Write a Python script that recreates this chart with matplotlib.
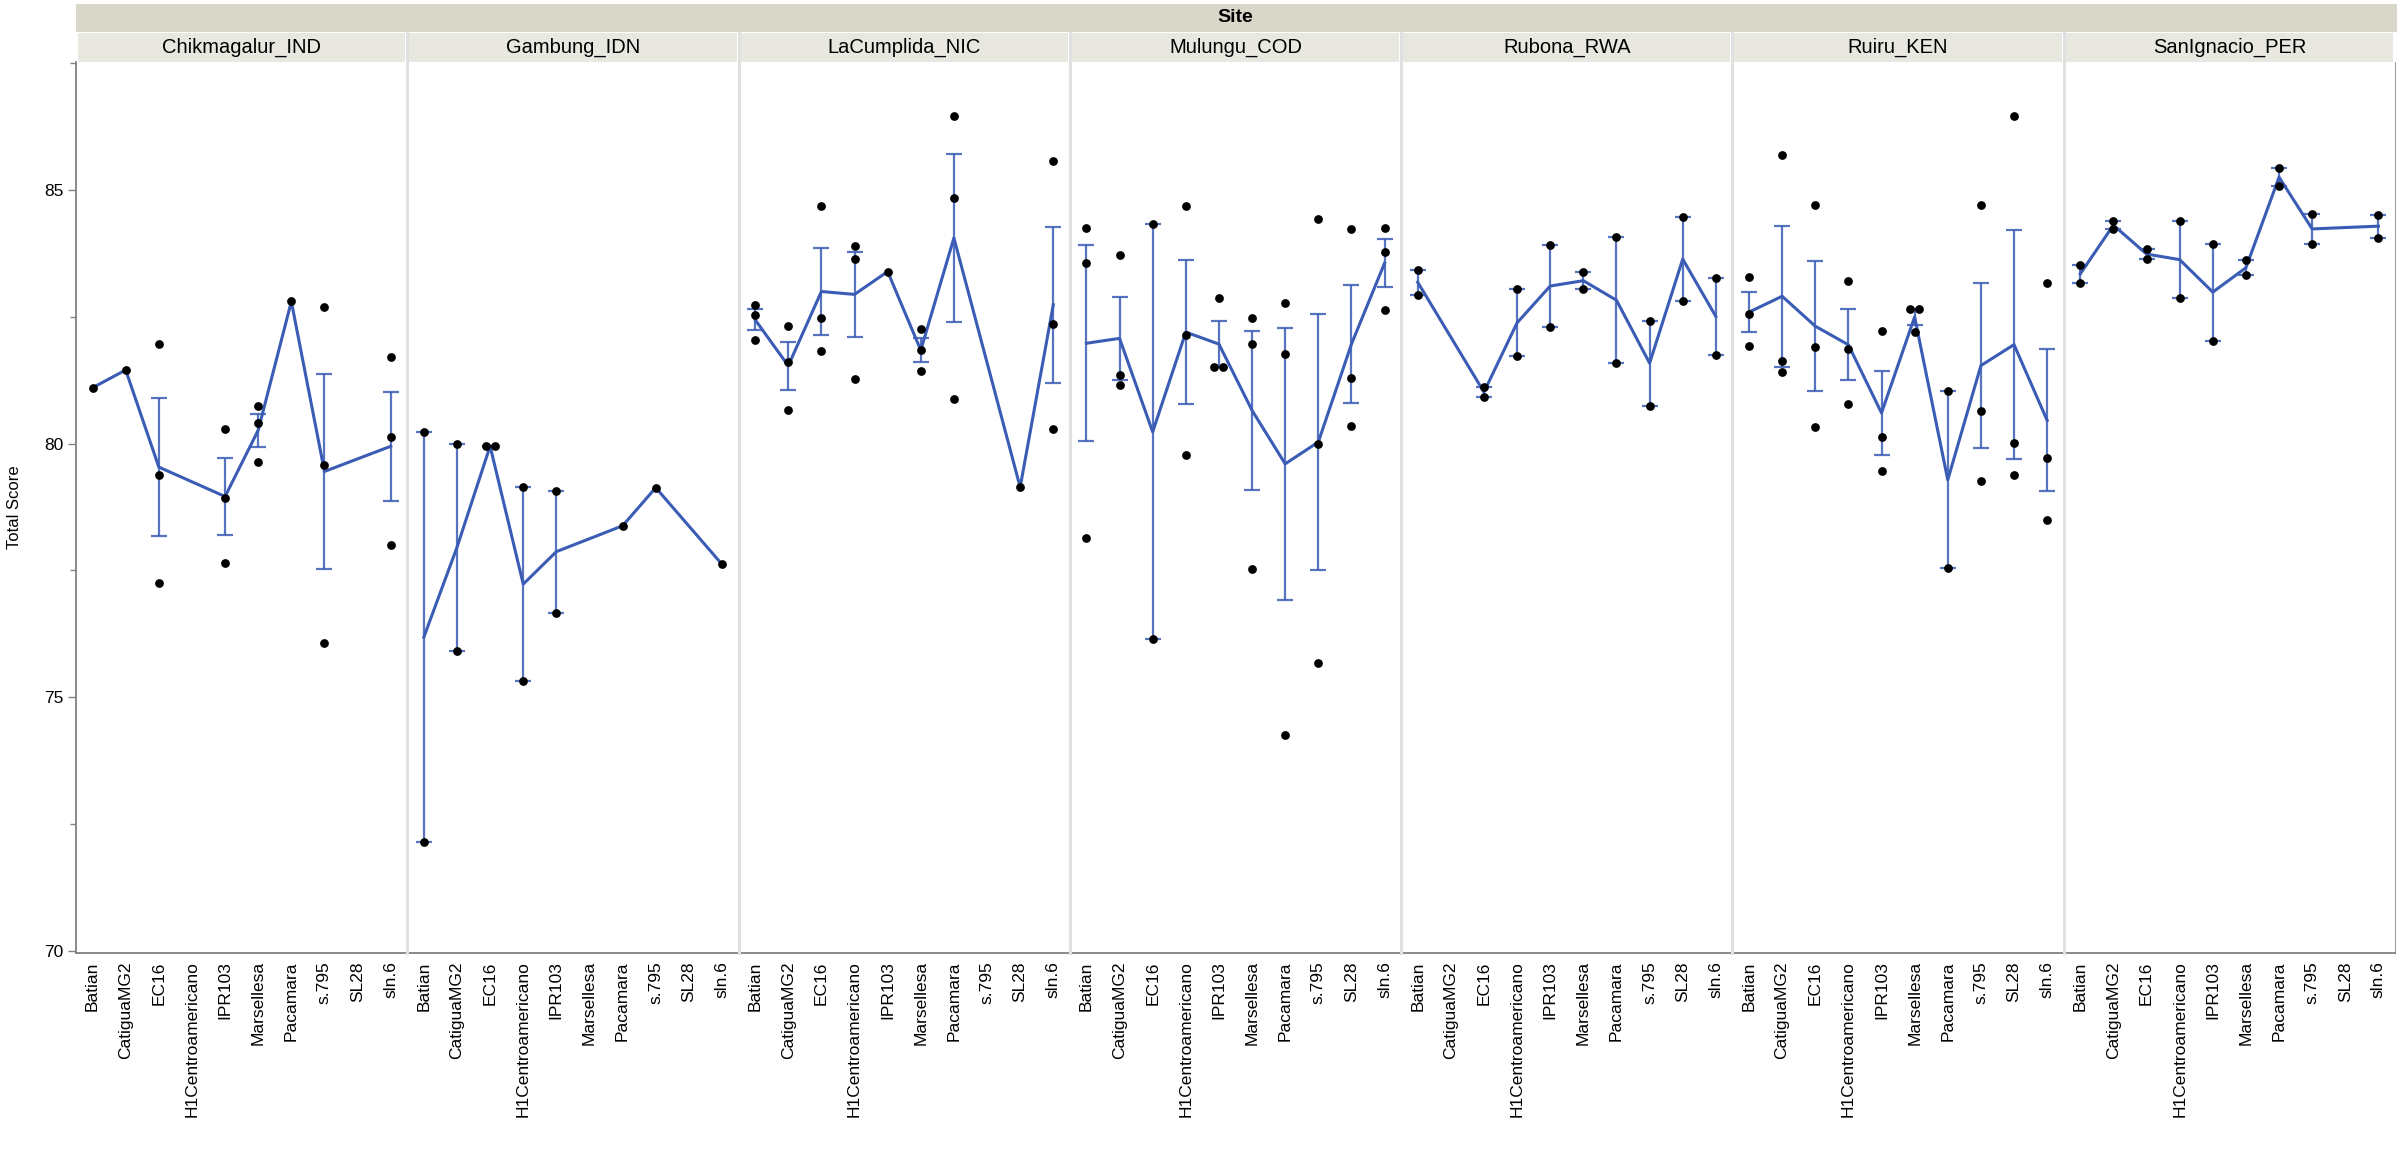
import numpy as np
import matplotlib
matplotlib.use("Agg")
import matplotlib.pyplot as plt
from matplotlib.patches import Rectangle
from matplotlib.lines import Line2D

plt.rcParams['font.family'] = ['Liberation Sans', 'DejaVu Sans']

varieties = ["Batian", "CatiguaMG2", "EC16", "H1Centroamericano", "IPR103",
             "Marsellesa", "Pacamara", "s.795", "SL28", "sln.6"]
sites = ["Chikmagalur_IND", "Gambung_IDN", "LaCumplida_NIC", "Mulungu_COD",
         "Rubona_RWA", "Ruiru_KEN", "SanIgnacio_PER"]

# total score of each plot, per variety (same order as varieties), empty = not grown
chikmagalur_ind = [[81.10], [81.45], [81.96, 79.39, 77.26], [], [80.29, 78.93, 77.65],
                   [80.74, 80.41, 79.64], [82.80], [82.70, 79.58, 76.07], [], [81.71, 80.13, 78.00]]
gambung_idn = [[80.23, 72.14], [80.00, 75.91], [79.95, 79.95], [79.14, 75.32], [79.07, 76.67],
               [], [78.38], [79.13], [], [77.62]]
lacumplida_nic = [[82.74, 82.54, 82.04], [82.32, 81.61, 80.67], [84.68, 82.48, 81.83],
                  [83.90, 83.64, 81.28], [83.39], [82.25, 81.84, 81.43], [86.45, 84.84, 80.87],
                  [], [79.14], [85.57, 82.35, 80.29]]
mulungu_cod = [[84.25, 83.55, 78.13], [83.71, 81.35, 81.16], [84.32, 76.14],
               [84.68, 82.14, 79.77], [82.86, 81.51, 81.51], [82.48, 81.96, 77.52],
               [82.77, 81.77, 74.26], [84.42, 80.00, 75.67], [84.23, 81.30, 80.35],
               [84.25, 83.78, 82.64]]
rubona_rwa = [[83.43, 82.93], [], [81.12, 80.91], [83.04, 81.72], [83.91, 82.30],
              [83.38, 83.04], [84.07, 81.58], [82.42, 80.75], [84.46, 82.81], [83.26, 81.75]]
ruiru_ken = [[83.29, 82.55, 81.93], [85.68, 81.62, 81.41], [84.71, 81.91, 80.32],
             [83.20, 81.86, 80.78], [82.22, 80.13, 79.46], [82.65, 82.65, 82.19],
             [81.03, 77.54], [84.70, 80.65, 79.26], [86.45, 80.01, 79.39], [83.16, 79.72, 78.49]]
sanignacio_per = [[83.52, 83.17], [84.39, 84.22], [83.83, 83.64], [84.39, 82.86], [83.94, 82.03],
                  [83.61, 83.32], [85.43, 85.07], [84.52, 83.94], [], [84.51, 84.06]]
scores = [chikmagalur_ind, gambung_idn, lacumplida_nic, mulungu_cod,
          rubona_rwa, ruiru_ken, sanignacio_per]

W, H = 2400, 1149
def fx(px):
	return px / W
def fy(py):
	return 1 - py / H

fig = plt.figure(figsize=(24, 11.49), dpi=100)

x0, x1 = 76, 2395
top, bottom = 62, 953
pw = (x1 - x0) / 7
blue = '#3a5cb5'

# Site band
fig.add_artist(Rectangle((fx(x0), fy(32)), fx(x1 + 2 - x0), 28 / H,
                         transform=fig.transFigure, color='#d9d7c9', lw=0))
fig.text(fx((x0 + x1) / 2), fy(18), "Site", ha='center', va='center',
         fontsize=14, fontweight='bold')

for i, site in enumerate(sites):
	left = x0 + i * pw
	ax = fig.add_axes([fx(left), fy(bottom), fx(pw), (bottom - top) / H])
	# panel strip
	fig.add_artist(Rectangle((fx(left + 2), fy(62)), fx(pw - 4), 29 / H,
	                         transform=fig.transFigure, color='#e8e8e0', lw=0))
	fig.text(fx(left + pw / 2), fy(47.5), site, ha='center', va='center', fontsize=14.5)
	if i > 0:
		fig.add_artist(Line2D([fx(left), fx(left)], [fy(33), fy(bottom)],
		                      transform=fig.transFigure, color='#e0e0e0', lw=2.2))

	means = []
	xs = []
	for j, vals in enumerate(scores[i]):
		if len(vals) == 0:
			continue
		vals = np.array(vals)
		m = vals.mean()
		means.append(m)
		xs.append(j)
		if len(vals) > 1:
			se = vals.std(ddof=1) / np.sqrt(len(vals))
			ax.errorbar(j, m, yerr=se, color=blue, lw=1.6, capsize=6, capthick=1.6,
			            alpha=0.85, zorder=2)
		# spread identical values a little sideways
		for v in np.unique(vals):
			k = np.sum(vals == v)
			offs = (np.arange(k) - (k - 1) / 2) * 0.27
			ax.plot(j + offs, [v] * k, 'o', color='black', ms=6.3, mew=0, zorder=4)
	ax.plot(xs, means, color=blue, lw=2.2, zorder=3)

	ax.set_xlim(-0.5, 9.5)
	ax.set_ylim(69.96, 87.52)
	ax.set_xticks(range(len(varieties)))
	ax.set_xticklabels(varieties, rotation=90, fontsize=12.5)
	ax.tick_params(axis='x', length=0, pad=6)
	ax.spines['top'].set_visible(False)
	ax.spines['bottom'].set_color('#808080')
	ax.spines['bottom'].set_linewidth(1.3)
	ax.spines['right'].set_visible(i == 6)
	ax.spines['right'].set_color('#a0a0a0')
	ax.patch.set_alpha(0)
	if i == 0:
		ax.spines['left'].set_color('#808080')
		ax.spines['left'].set_linewidth(1.3)
		ax.set_yticks([70, 75, 80, 85])
		ax.set_yticks([72.5, 77.5, 82.5, 87.5], minor=True)
		ax.tick_params(axis='y', which='major', length=6, width=1, color='#808080',
		               labelsize=12.5, pad=3)
		ax.tick_params(axis='y', which='minor', length=4, width=1, color='#808080')
	else:
		ax.spines['left'].set_visible(False)
		ax.set_yticks([])

fig.text(fx(15), fy(507), "Total Score", rotation=90, ha='center', va='center', fontsize=12)

fig.savefig("out.png", dpi=100)
